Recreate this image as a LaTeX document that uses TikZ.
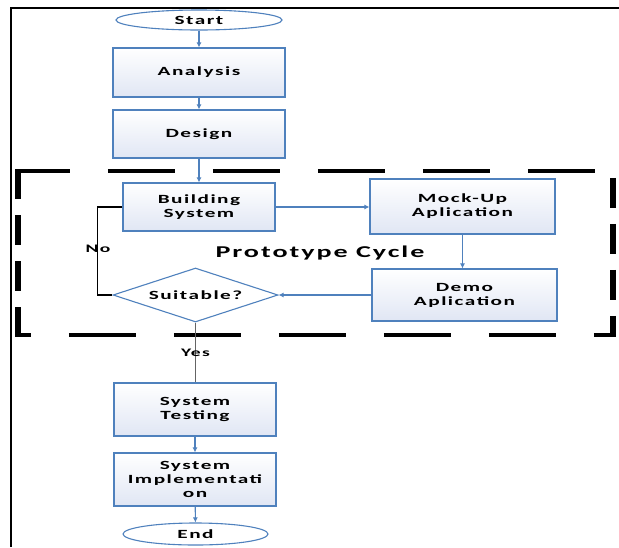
\documentclass[tikz,border=0pt]{standalone}
\usepackage{fontspec}
\newfontfamily\flowfont{Carlito}[FakeStretch=1.7, LetterSpace=12]
\usepackage{tikz}
\usetikzlibrary{shapes.geometric, arrows.meta, positioning}
\definecolor{line_blue}{RGB}{79,129,189}
\definecolor{box_fill}{RGB}{224,230,244}
\definecolor{yes_gray}{RGB}{100,100,100}
\tikzset{
  block_font/.style = {font=\flowfont\bfseries\fontsize{12.5}{14}\selectfont},
  cycle_font/.style = {font=\flowfont\bfseries\fontsize{16.5}{18}\selectfont},
  label_font/.style = {font=\flowfont\bfseries\fontsize{11.5}{13}\selectfont},
  box_line/.style = {draw=line_blue, line width=1.1}
}
\tikzset{
  process/.style = {block_font, box_line, align=center, inner sep=0,
      top color=white, bottom color=box_fill},
  terminal/.style = {block_font, box_line, ellipse, inner sep=0, fill=white},
  decision/.style = {block_font, box_line, diamond, aspect=3, inner sep=0, fill=white},
  flow_arrow/.style = {draw=line_blue, line width=1.1, -{Latex[length=5, width=5]}},
  loop_line/.style = {draw=black, line width=1.1},
  yes_line/.style = {draw=yes_gray, line width=1.6},
  dash_h/.style = {draw=black, line width=3.5, dash pattern=on 67 off 38},
  dash_v/.style = {draw=black, line width=5.5, dash pattern=on 30 off 16}
}

\begin{document}
\begin{tikzpicture}[x=1pt, y=-1pt]
        \useasboundingbox (0,0) rectangle (619,547);

        % Page frame
        \draw[line width=2.5] (11,547) |- (619,8);

        % Main line
        \node[terminal, minimum width=166, minimum height=20] at (199,20) (start) {Start};
        \node[process, minimum width=172, minimum height=49] at (199,72.5) (analysis) {Analysis};
        \node[process, minimum width=172, minimum height=48] at (199,134) (design) {Design};

        % Prototype cycle
        \node[minimum width=595, minimum height=164, inner sep=0] at (315.5,253) (cycle) {};
        \node[cycle_font] at (320,253) (cycle_label) {Prototype Cycle};
        \node[process, minimum width=152, minimum height=48] at (199,207) (building) {Building\\System};
        \node[process, minimum width=185, minimum height=55] at (462.5,206.5) (mockup) {Mock-Up\\Aplication};
        \node[process, minimum width=185, minimum height=52] at (464.5,295) (demo) {Demo\\Aplication};
        \node[decision, minimum width=165, minimum height=54] at (195.5,295) (suitable) {Suitable?};

        % After the cycle
        \node[process, minimum width=162, minimum height=53] at (195,409.5) (testing) {System\\Testing};
        \node[process, minimum width=162, minimum height=53] at (195,479.5) (implementation) {System\\Implementati\\on};
        \node[terminal, minimum width=145, minimum height=22] at (195.5,534) (end) {End};

        % Dashed border of the cycle
        \draw[dash_h, dash phase=15] (cycle.north west)--(cycle.north east);
        \draw[dash_h, dash phase=54] (cycle.south west)--(cycle.south east);
        \draw[dash_v, shorten <=-1.75, shorten >=-1.75] (cycle.north west)--(cycle.south west);
        \draw[dash_v, dash phase=39, shorten >=-1.75] (cycle.north east)--(cycle.south east);

        % Arrows and lines
        \draw[flow_arrow] (start)--(analysis);
        \draw[flow_arrow] (analysis)--(design);
        \draw[flow_arrow] (design)--(building);
        \draw[flow_arrow] (building.east)--(building.east -| mockup.west);
        \draw[flow_arrow] (mockup.south)--(mockup.south |- demo.north);
        \draw[flow_arrow] (demo.west)--(suitable.east);
        \draw[loop_line] (building.west)-- ++(-25,0) |- (suitable.west);
        \node[label_font] at (98,249) (no_label) {No};
        \draw[yes_line] (suitable.south)--(suitable.south |- testing.north)
            node[label_font, pos=0.5] (yes_label) {Yes};
        \draw[flow_arrow] (testing)--(implementation);
        \draw[flow_arrow] (implementation)--(end);
    \end{tikzpicture}
\end{document}
